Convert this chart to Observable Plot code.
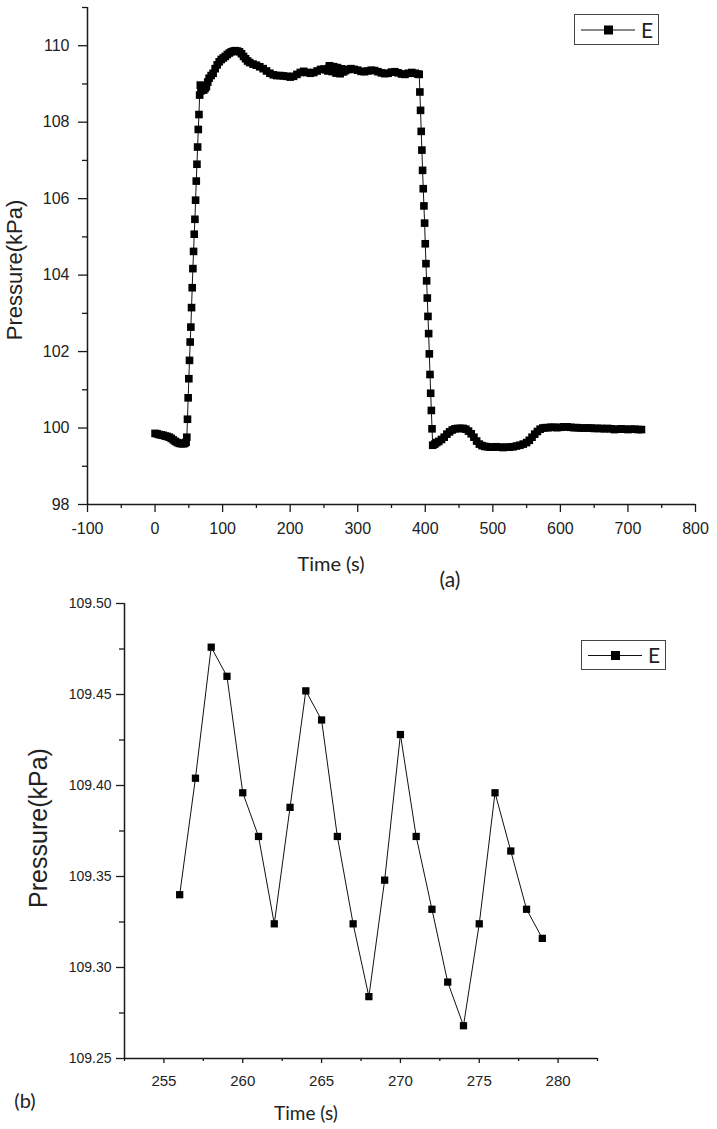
<!DOCTYPE html>
<html>
<head>
<meta charset="utf-8">
<script src="https://cdn.jsdelivr.net/npm/d3@7"></script>
<script src="https://cdn.jsdelivr.net/npm/@observablehq/plot@0.6"></script>
<style>
  html, body { margin: 0; padding: 0; background: #fff; }
  #wrap { position: relative; width: 717px; height: 1129px; overflow: hidden; background: #fff; }
  .abs { position: absolute; white-space: nowrap; color: #222; }
  .plot { position: absolute; left: 0; }
  .legend { position: absolute; border: 1.3px solid #444; box-sizing: border-box; background: #fff; }
</style>
</head>
<body>
<div id="wrap"></div>
<script>
// ---------- Panel (a): full pressure record ----------
const timeA = [
  0, 3, 6, 9, 12, 15, 18, 21, 24, 27, 30, 33, 36, 39, 42, 44, 46, 47,
  48, 49, 50, 51, 52, 53, 54, 55, 56, 57, 58, 59, 60, 61, 62, 63, 64, 65, 66, 67,
  68, 69, 70, 72, 74, 76, 78, 80, 83, 86, 89, 92, 95, 98, 101, 104, 107, 110,
  113, 116, 119, 122, 125, 128, 131, 134, 137, 140, 145, 150, 155, 160, 165, 170,
  175, 180, 185, 190, 195, 200, 205, 210, 215, 220, 225, 230, 235, 240, 245, 250, 253,
  256, 257, 258, 259, 260, 261, 262, 263, 264, 265, 266, 267, 268, 269, 270, 271,
  272, 273, 274, 275, 276, 277, 278, 279,
  282, 285, 290, 295, 300, 305, 310, 315, 320, 325, 330, 335, 340, 345, 350, 355,
  360, 365, 370, 375, 380, 385, 389, 391,
  392, 393, 394, 395, 396, 397, 398, 399, 400, 401, 402, 403, 404, 405, 406, 407,
  408, 409, 410, 411,
  414, 417, 420, 424, 428, 432, 436, 440, 444, 448, 452, 456, 460, 464, 468, 472,
  476, 480, 484, 488, 492, 496, 500, 505, 510, 515, 520, 525, 530, 535, 540, 545,
  550, 554, 558, 562, 566, 570, 574, 578, 582, 586, 590, 595, 600, 605, 610, 615,
  620, 625, 630, 635, 640, 645, 650, 655, 660, 665, 670, 675, 680, 685, 690, 695,
  700, 705, 710, 715, 720
];
const pressureA = [
  99.86, 99.85, 99.83, 99.82, 99.81, 99.79, 99.78, 99.76, 99.73, 99.69, 99.65, 99.62, 99.60, 99.59, 99.59, 99.60, 99.63, 99.76,
  100.23, 100.79, 101.29, 101.77, 102.25, 102.64, 103.15, 103.67, 104.17, 104.62, 105.07, 105.46, 105.96, 106.46, 106.90, 107.35, 107.81, 108.20, 108.71, 108.97,
  108.82, 108.92, 108.86, 108.84, 108.88, 108.93, 109.05, 109.15, 109.22, 109.28, 109.40, 109.50, 109.58, 109.64, 109.68, 109.72, 109.77, 109.81,
  109.84, 109.86, 109.87, 109.86, 109.84, 109.79, 109.72, 109.66, 109.60, 109.56, 109.52, 109.49, 109.45, 109.40, 109.34, 109.28,
  109.24, 109.22, 109.22, 109.21, 109.20, 109.18, 109.20, 109.25, 109.30, 109.33, 109.30, 109.28, 109.30, 109.34, 109.38, 109.39, 109.37,
  109.340, 109.404, 109.476, 109.460, 109.396, 109.372, 109.324, 109.388, 109.452, 109.436, 109.372, 109.324, 109.284, 109.348, 109.428, 109.372,
  109.332, 109.292, 109.268, 109.324, 109.396, 109.364, 109.332, 109.316,
  109.35, 109.38, 109.40, 109.38, 109.36, 109.33, 109.32, 109.34, 109.36, 109.35, 109.32, 109.29, 109.27, 109.28, 109.31, 109.32,
  109.29, 109.26, 109.25, 109.28, 109.30, 109.28, 109.26, 109.25,
  108.79, 108.31, 107.76, 107.27, 106.74, 106.26, 105.81, 105.36, 104.82, 104.30, 103.85, 103.40, 102.92, 102.47, 101.94, 101.40,
  100.91, 100.46, 99.98, 99.55,
  99.58, 99.62, 99.65, 99.70, 99.76, 99.84, 99.90, 99.95, 99.98, 99.99, 99.99, 99.99, 99.97, 99.92, 99.85, 99.76,
  99.66, 99.58, 99.54, 99.52, 99.51, 99.50, 99.50, 99.51, 99.50, 99.49, 99.50, 99.50, 99.51, 99.53, 99.55, 99.58,
  99.62, 99.68, 99.76, 99.84, 99.91, 99.97, 100.00, 100.01, 100.01, 100.02, 100.02, 100.01, 100.02, 100.03, 100.03, 100.02,
  100.01, 100.01, 100.00, 100.00, 100.00, 100.00, 99.99, 99.99, 99.99, 99.98, 99.99, 99.98, 99.96, 99.97, 99.98, 99.97,
  99.96, 99.97, 99.97, 99.96, 99.96
];
const xTicksA = [-100, 0, 100, 200, 300, 400, 500, 600, 700, 800];
const xMinorA = [-50, 50, 150, 250, 350, 450, 550, 650, 750];
const yTicksA = [98, 100, 102, 104, 106, 108, 110];
const yMinorA = [99, 101, 103, 105, 107, 109, 111];

// ---------- Panel (b): zoom 256–279 s ----------
const timeB = [256, 257, 258, 259, 260, 261, 262, 263, 264, 265, 266, 267,
               268, 269, 270, 271, 272, 273, 274, 275, 276, 277, 278, 279];
const pressureB = [109.340, 109.404, 109.476, 109.460, 109.396, 109.372, 109.324, 109.388,
                   109.452, 109.436, 109.372, 109.324, 109.284, 109.348, 109.428, 109.372,
                   109.332, 109.292, 109.268, 109.324, 109.396, 109.364, 109.332, 109.316];
const xTicksB = [255, 260, 265, 270, 275, 280];
const xMinorB = [252.5, 257.5, 262.5, 267.5, 272.5, 277.5, 282.5];
const yTicksB = [109.25, 109.30, 109.35, 109.40, 109.45, 109.50];
const yMinorB = [109.275, 109.325, 109.375, 109.425, 109.475];

const seriesName = "E";
const yLabel = "Pressure(kPa)";
const xLabel = "Time (s)";

const dataA = timeA.map((t, i) => ({t, p: pressureA[i]}));
const dataB = timeB.map((t, i) => ({t, p: pressureB[i]}));

const wrap = document.getElementById("wrap");
const FONT = "'Liberation Sans', Arial, sans-serif";
const INK = "#1a1a1a";

const plotA = Plot.plot({
  width: 717, height: 545,
  marginLeft: 87, marginRight: 22, marginTop: 7, marginBottom: 41,
  x: {domain: [-100, 800], label: null},
  y: {domain: [98, 111], label: null},
  style: {fontFamily: FONT, fontSize: "16px", color: "#222", background: "transparent"},
  marks: [
    Plot.axisX(xTicksA, {tickSize: 8, tickPadding: 10, tickFormat: d => String(d), fontSize: 16, label: null, stroke: INK, strokeWidth: 1.3}),
    Plot.axisX(xMinorA, {tickSize: 4, tickFormat: () => "", label: null, stroke: INK, strokeWidth: 1.3}),
    Plot.axisY(yTicksA, {tickSize: 9, tickPadding: 9, tickFormat: d => String(d), fontSize: 16, label: null, stroke: INK, strokeWidth: 1.3}),
    Plot.axisY(yMinorA, {tickSize: 5, tickFormat: () => "", label: null, stroke: INK, strokeWidth: 1.3}),
    Plot.ruleX([-100], {stroke: INK, strokeWidth: 1.5}),
    Plot.ruleY([98], {stroke: INK, strokeWidth: 1.5}),
    Plot.line(dataA, {x: "t", y: "p", stroke: "#111", strokeWidth: 1}),
    Plot.dot(dataA, {x: "t", y: "p", symbol: "square", r: 4.3, fill: "#000", stroke: "none"})
  ]
});
plotA.classList.add("plot");
plotA.style.top = "0px";
wrap.appendChild(plotA);

const plotB = Plot.plot({
  width: 717, height: 539,
  marginLeft: 124, marginRight: 120, marginTop: 13, marginBottom: 71,
  x: {domain: [252.5, 282.5], label: null},
  y: {domain: [109.25, 109.50], label: null},
  style: {fontFamily: FONT, fontSize: "15px", color: "#222", background: "transparent"},
  marks: [
    Plot.axisX(xTicksB, {tickSize: 5, tickPadding: 12, tickFormat: d => String(d), fontSize: 15, label: null, stroke: INK, strokeWidth: 1.3}),
    Plot.axisX(xMinorB, {tickSize: 3, tickFormat: () => "", label: null, stroke: INK, strokeWidth: 1.3}),
    Plot.axisY(yTicksB, {tickSize: 8, tickPadding: 5, tickFormat: d3.format(".2f"), fontSize: 14, label: null, stroke: INK, strokeWidth: 1.3}),
    Plot.axisY(yMinorB, {tickSize: 5, tickFormat: () => "", label: null, stroke: INK, strokeWidth: 1.3}),
    Plot.ruleX([252.5], {stroke: INK, strokeWidth: 1.5}),
    Plot.ruleY([109.25], {stroke: INK, strokeWidth: 1.5}),
    Plot.line(dataB, {x: "t", y: "p", stroke: "#111", strokeWidth: 1}),
    Plot.dot(dataB, {x: "t", y: "p", symbol: "square", r: 4.1, fill: "#000", stroke: "none"})
  ]
});
plotB.classList.add("plot");
plotB.style.top = "590px";
wrap.appendChild(plotB);

function addText(txt, cx, cy, font, size, rotate, weight) {
  const d = document.createElement("div");
  d.className = "abs";
  d.textContent = txt;
  d.style.left = cx + "px";
  d.style.top = cy + "px";
  d.style.fontFamily = font;
  d.style.fontSize = size + "px";
  d.style.lineHeight = "1";
  if (weight) d.style.fontWeight = weight;
  d.style.transform = "translate(-50%,-50%)" + (rotate ? " rotate(-90deg)" : "");
  wrap.appendChild(d);
}
const CAL = "Lato, 'Open Sans', sans-serif";
addText(yLabel, 15, 270, FONT, 22, true);
addText(xLabel, 331, 563, CAL, 20, false);
addText("(a)", 450, 578, CAL, 21, false);
addText(yLabel, 38, 828, FONT, 25, true);
addText(xLabel, 306, 1112, CAL, 19, false);
addText("(b)", 25, 1100, CAL, 20, false);

function addLegend(left, top, w, h) {
  const box = document.createElement("div");
  box.className = "legend";
  box.style.left = left + "px";
  box.style.top = top + "px";
  box.style.width = w + "px";
  box.style.height = h + "px";
  const ns = "http://www.w3.org/2000/svg";
  const svg = document.createElementNS(ns, "svg");
  svg.setAttribute("width", w);
  svg.setAttribute("height", h);
  svg.style.position = "absolute";
  svg.style.left = "0"; svg.style.top = "0";
  const cy = h / 2 - 0.5;
  const ln = document.createElementNS(ns, "line");
  ln.setAttribute("x1", 6); ln.setAttribute("x2", 60);
  ln.setAttribute("y1", cy); ln.setAttribute("y2", cy);
  ln.setAttribute("stroke", "#111"); ln.setAttribute("stroke-width", 1.2);
  svg.appendChild(ln);
  const sq = document.createElementNS(ns, "rect");
  sq.setAttribute("x", 29); sq.setAttribute("y", cy - 4.5);
  sq.setAttribute("width", 9); sq.setAttribute("height", 9);
  sq.setAttribute("fill", "#000");
  svg.appendChild(sq);
  const tx = document.createElementNS(ns, "text");
  tx.setAttribute("x", 66); tx.setAttribute("y", cy + 7.5);
  tx.setAttribute("font-family", CAL); tx.setAttribute("font-size", 21);
  tx.setAttribute("fill", "#222");
  tx.textContent = seriesName;
  svg.appendChild(tx);
  box.appendChild(svg);
  wrap.appendChild(box);
}
addLegend(574, 14, 85, 31);
addLegend(581, 640, 85, 30);
</script>
</body>
</html>
